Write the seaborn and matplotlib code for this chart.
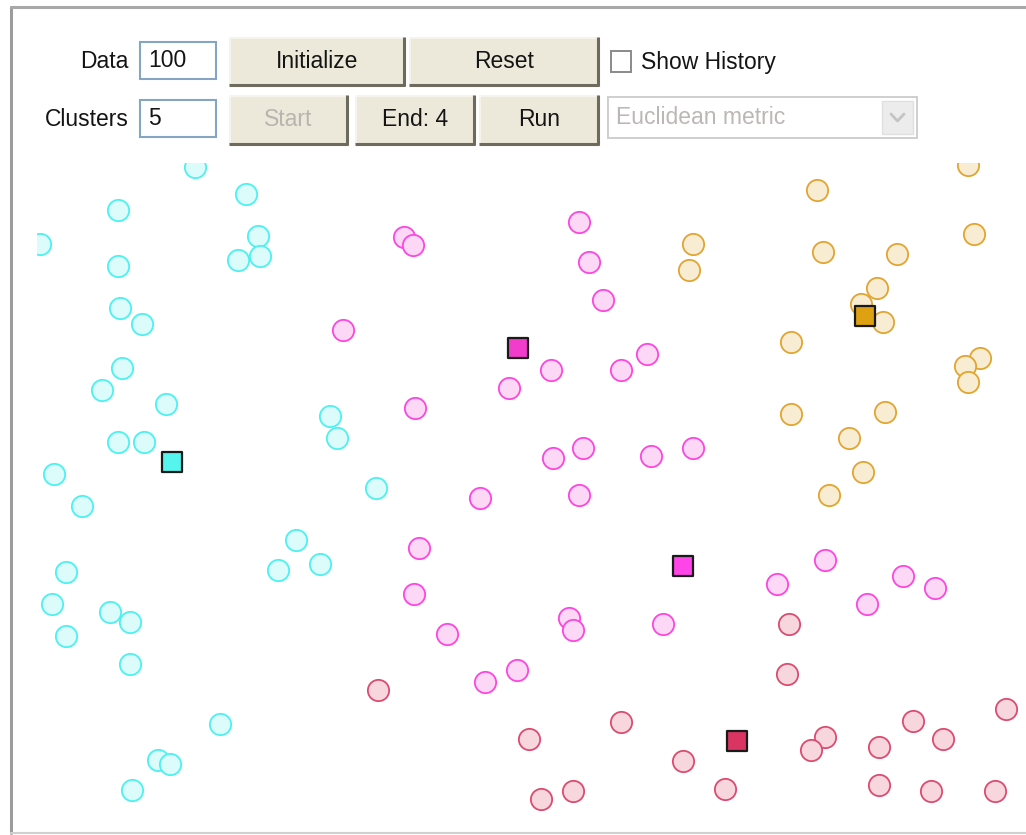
import matplotlib
matplotlib.use("Agg")
import matplotlib.pyplot as plt
import seaborn as sns
import pandas as pd
from matplotlib.patches import Rectangle
from matplotlib.lines import Line2D

# ---------------- data (canvas coordinates, y grows downward) ----------------
cyan_x = [195, 246, 118, 40, 258, 238, 260, 118, 120, 142, 122, 102, 166, 118, 144,
          330, 337, 54, 376, 82, 296, 320, 278, 66, 52, 110, 130, 66, 130, 220, 158, 170, 132]
cyan_y = [167, 194, 210, 244, 236, 260, 256, 266, 308, 324, 368, 390, 404, 442, 442,
          416, 438, 474, 488, 506, 540, 564, 570, 572, 604, 612, 622, 636, 664, 724, 760, 764, 790]

pink_x = [343, 404, 413, 579, 589, 603, 551, 509, 621, 647, 415, 553, 583, 651, 693,
          480, 579, 419, 414, 447, 569, 573, 663, 485, 517, 825, 777, 903, 935, 867]
pink_y = [330, 237, 245, 222, 262, 300, 370, 388, 370, 354, 408, 458, 448, 456, 448,
          498, 495, 548, 594, 634, 618, 630, 624, 682, 670, 560, 584, 576, 588, 604]

orange_x = [693, 689, 968, 817, 974, 823, 897, 877, 861, 883, 791, 980, 965, 968,
            791, 885, 849, 863, 829]
orange_y = [244, 270, 165, 190, 234, 252, 254, 288, 304, 322, 342, 358, 366, 382,
            414, 412, 438, 472, 495]

red_x = [378, 529, 621, 683, 541, 573, 789, 787, 1006, 913, 825, 811, 879, 943,
         725, 879, 931, 995]
red_y = [690, 739, 722, 761, 799, 791, 624, 674, 709, 721, 737, 750, 747, 739,
         789, 785, 791, 791]

centroid_names = ["cyan", "magenta_a", "magenta_b", "orange", "red"]
centroid_x = [172, 518, 683, 865, 737]
centroid_y = [462, 348, 566, 316, 741]

cluster_fill = {"cyan": "#dcfcfc", "pink": "#fdd8f6", "orange": "#f8ecd2", "red": "#f7d6de"}
cluster_edge = {"cyan": "#4ef0f0", "pink": "#ff45e0", "orange": "#e2a530", "red": "#dc4c70"}
centroid_fill = ["#55f5ee", "#f23ccb", "#ff44e8", "#dda112", "#d93462"]

W, H = 1026, 835
sns.set_theme(style="white")
plt.rcParams["font.family"] = ["Liberation Sans", "DejaVu Sans"]

fig = plt.figure(figsize=(W / 100, H / 100), dpi=100)
fig.patch.set_facecolor("white")


def fx(px):
    return px / W


def fy(py):
    return 1 - py / H


# ---------------- plot area ----------------
left, right, top, bottom = 37, 1026, 163, 833
ax = fig.add_axes([fx(left), fy(bottom), fx(right) - fx(left), fy(top) - fy(bottom)])
ax.set_xlim(left, right)
ax.set_ylim(bottom, top)
ax.axis("off")

groups = [("cyan", cyan_x, cyan_y), ("pink", pink_x, pink_y),
          ("orange", orange_x, orange_y), ("red", red_x, red_y)]
for name, xs, ys in groups:
    df = pd.DataFrame({"x": xs, "y": ys})
    sns.scatterplot(data=df, x="x", y="y", ax=ax, s=235, marker="o",
                    color=cluster_fill[name], edgecolor=cluster_edge[name],
                    linewidth=1.3, legend=False, zorder=2)

cdf = pd.DataFrame({"x": centroid_x, "y": centroid_y, "c": centroid_names})
sns.scatterplot(data=cdf, x="x", y="y", hue="c", palette=dict(zip(centroid_names, centroid_fill)),
                marker="s", s=210, edgecolor="#1a1a1a", linewidth=1.6, legend=False,
                ax=ax, zorder=3)
ax.set_xlabel("")
ax.set_ylabel("")

# ---------------- outer frame ----------------
fig.add_artist(Line2D([fx(11), fx(11)], [fy(7), fy(833)], color="#9c9c9c", lw=2.2,
                      transform=fig.transFigure))
fig.add_artist(Line2D([fx(11), fx(1026)], [fy(7), fy(7)], color="#a8a8a8", lw=2.2,
                      transform=fig.transFigure))
fig.add_artist(Line2D([fx(11), fx(1026)], [fy(833), fy(833)], color="#d0d0d0", lw=1.5,
                      transform=fig.transFigure))

FS = 16.5
TXT = "#141414"


def rect(x0, y0, x1, y1, fc, ec, lw=1.0, z=5):
    fig.add_artist(Rectangle((fx(x0), fy(y1)), fx(x1) - fx(x0), fy(y0) - fy(y1),
                             facecolor=fc, edgecolor=ec, lw=lw, transform=fig.transFigure,
                             zorder=z))


def line(x0, y0, x1, y1, c, lw):
    fig.add_artist(Line2D([fx(x0), fx(x1)], [fy(y0), fy(y1)], color=c, lw=lw,
                          transform=fig.transFigure, zorder=6, solid_capstyle="butt"))


def button(x0, y0, x1, y1, label, enabled=True):
    rect(x0, y0, x1, y1, "#ece9da", "none")
    line(x0, y0 + 1, x1, y0 + 1, "#f8f7f0", 1.2)
    line(x0 + 1, y0, x0 + 1, y1, "#f8f7f0", 1.2)
    line(x0, y1 - 1, x1, y1 - 1, "#6e6a5e", 2.2)
    line(x1 - 1, y0, x1 - 1, y1, "#6e6a5e", 2.2)
    fig.text(fx((x0 + x1) / 2), fy((y0 + y1) / 2), label, ha="center", va="center",
             fontsize=FS, color=TXT if enabled else "#b8b4b0", zorder=7)


def textbox(x0, y0, x1, y1, val):
    rect(x0, y0, x1, y1, "white", "#86a5c2", lw=1.5)
    fig.text(fx(x0 + 8), fy((y0 + y1) / 2), val, ha="left", va="center",
             fontsize=FS, color=TXT, zorder=7)


# row 1
fig.text(fx(129), fy(62), "Data", ha="right", va="center", fontsize=FS, color=TXT)
textbox(140, 42, 216, 79, "100")
button(229, 37, 405, 86, "Initialize")
button(409, 37, 599, 86, "Reset")
rect(611, 51, 631, 72, "white", "#8a8a8a", lw=1.4)
fig.text(fx(641), fy(62), "Show History", ha="left", va="center", fontsize=FS, color=TXT)

# row 2
fig.text(fx(129), fy(120), "Clusters", ha="right", va="center", fontsize=FS, color=TXT)
textbox(140, 100, 216, 137, "5")
button(229, 95, 348, 145, "Start", enabled=False)
button(355, 95, 475, 145, "End: 4")
button(479, 95, 599, 145, "Run")

# dropdown
rect(608, 97, 917, 138, "white", "#cfcfcf", lw=1.4)
rect(882, 101, 913, 134, "#ececec", "#e0e0e0", lw=1.0, z=6)
fig.add_artist(Line2D([fx(891), fx(897.5), fx(904)], [fy(114), fy(121), fy(114)],
                      color="#c4c4c4", lw=2.0, transform=fig.transFigure, zorder=7))
fig.text(fx(616), fy(118), "Euclidean metric", ha="left", va="center", fontsize=FS,
         color="#bdb6b6", zorder=7)

fig.savefig("out.png", dpi=100, facecolor="white")
